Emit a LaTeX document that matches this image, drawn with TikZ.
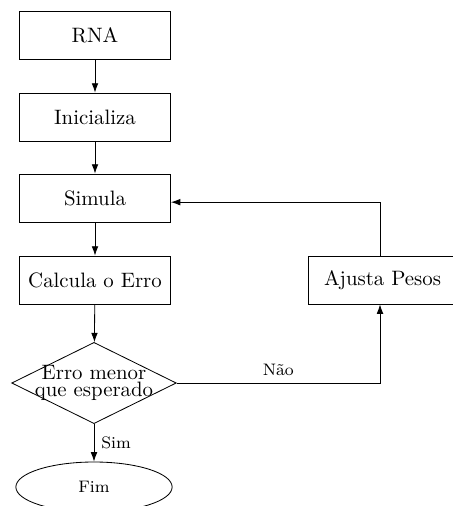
\documentclass[tikz,border=0pt]{standalone}
\usepackage{tikz}
\usetikzlibrary{shapes.geometric, arrows.meta, calc}

\begin{document}
\begin{tikzpicture}[
    x=0.48pt,
    y=-0.48pt,
    >={Latex[length=4.5pt, width=3.2pt]},
    passo/.style={draw, rectangle, minimum width=72.5pt, minimum height=23pt, inner sep=0},
    decisao/.style={draw, diamond, minimum width=79pt, minimum height=39pt, inner sep=0},
    fim/.style={draw, ellipse, minimum width=75pt, minimum height=24pt, inner sep=0, font=\footnotesize}]
   \useasboundingbox (0,0) rectangle (452,506);
   \path
     node(rna)    at ( 95, 35)  [passo] {RNA}
     node(ini)    at ( 95,117)  [passo] {Inicializa}
     node(sim)    at ( 95,198)  [passo] {Simula}
     node(calc)   at ( 95,280)  [passo] {Calcula o Erro}
     node(ajusta) at (308,280)  [passo, anchor=west, minimum width=80pt, text width=70pt, align=left]
       {\hspace*{2.5pt}Ajusta Pesos}
     node(erro)   at ( 94,383)  [decisao,
       label={[align=center]center:Erro menor\\[-3.5pt]que esperado}] {}
     node(fim)    at ( 94,487)  [fim] {Fim};

   \draw[->] (rna) -- (ini);
   \draw[->] (ini) -- (sim);
   \draw[->] (sim) -- (calc);
   \draw[->] (calc) -- (erro);
   \draw[->] (erro) -- node[right, font=\footnotesize] {Sim} (fim);
   \draw[->] (erro.east) -| node[pos=.25, above, font=\footnotesize] {Não} ($(ajusta.south west)+(72,0)$);
   \draw[->] ($(ajusta.north west)+(72,0)$) |- ([yshift=-2pt]sim.east);
\end{tikzpicture}
\end{document}
